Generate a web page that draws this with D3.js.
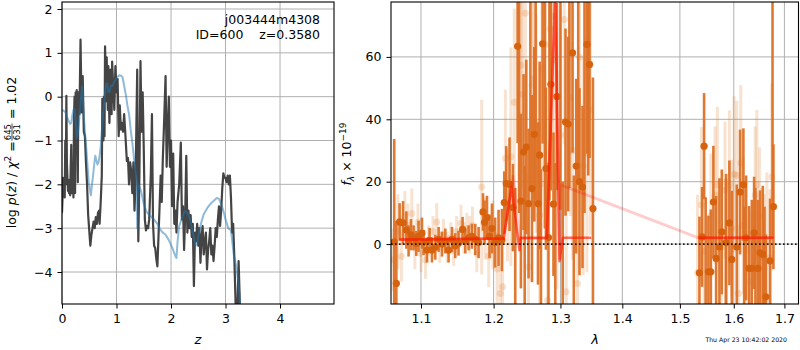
<!DOCTYPE html>
<html>
<head>
<meta charset="utf-8">
<script src="https://cdn.jsdelivr.net/npm/d3@7"></script>
<style>
  body { margin: 0; background: #fff; }
  text { font-family: "DejaVu Sans", sans-serif; }
</style>
</head>
<body>
<script>
// ---- p(z) panel data ----
var zGrid = [0.00,0.01,0.02,0.03,0.04,0.05,0.06,0.07,0.08,0.09,0.10,0.11,0.12,0.13,0.14,0.15,0.16,0.17,0.18,0.19,
  0.20,0.21,0.22,0.23,0.24,0.25,0.26,0.27,0.28,0.29,0.30,0.32,0.34,0.36,0.38,0.40,0.42,0.44,0.46,0.48,
  0.50,0.52,0.54,0.56,0.58,0.60,0.62,0.64,0.66,0.68,0.69,0.71,0.73,0.74,0.76,0.77,0.78,0.79,0.81,0.82,
  0.84,0.85,0.87,0.89,0.91,0.92,0.94,0.96,0.98,1.00,1.02,1.04,1.06,1.08,1.10,1.12,1.14,1.16,1.19,1.21,
  1.23,1.25,1.27,1.29,1.31,1.33,1.35,1.37,1.38,1.40,1.42,1.44,1.46,1.48,1.50,1.52,1.54,1.56,1.58,1.60,
  1.63,1.65,1.67,1.69,1.71,1.73,1.75,1.77,1.79,1.81,1.83,1.85,1.87,1.90,1.92,1.94,1.96,1.98,2.00,2.02,
  2.04,2.06,2.08,2.10,2.12,2.15,2.18,2.20,2.22,2.24,2.26,2.28,2.30,2.32,2.34,2.36,2.38,2.40,2.42,2.44,
  2.46,2.48,2.50,2.52,2.54,2.56,2.58,2.60,2.62,2.64,2.66,2.68,2.70,2.72,2.74,2.76,2.78,2.80,2.82,2.84,
  2.86,2.88,2.90,2.92,2.94,2.96,2.98,3.00,3.02,3.04,3.06,3.08,3.10,3.12,3.14,3.16,3.18,3.20,3.22,3.24,
  3.26,3.28];
var logpz = [-2.65,-2.3,-1.85,-2.2,-2.1,-2.3,-1.0,-2.0,0.02,-1.5,-1.85,-2.15,-1.9,-2.2,-2.05,-2.25,-1.6,-1.1,-2.2,-2.0,
  -1.7,-2.3,-0.5,0.0,-2.2,0.1,-1.2,0.15,-0.8,-1.95,0.1,-0.4,1.3,-0.36,0.47,-0.8,-0.9,-1.5,-2.0,-2.7,
  -3.05,-3.4,-3.15,-3.0,-2.85,-3.0,-2.75,-2.9,-2.65,-2.6,-2.9,-2.4,-1.8,-0.05,-1.0,0.0,-0.9,1.15,-0.1,0.9,
  -0.3,0.7,-0.6,0.62,-0.4,0.8,0.2,-0.3,0.7,0.1,0.4,-0.9,-0.2,-0.75,-0.6,-0.8,-0.4,-0.8,-1.47,-1.4,
  -2.0,-1.5,-1.7,-2.2,-1.5,-2.6,-1.9,-0.2,0.62,-3.3,-1.8,0.81,-0.8,0.1,-1.2,-2.8,-3.05,-2.95,-3.0,-2.8,
  -1.75,-0.4,-2.9,-3.4,-3.45,-3.7,-3.87,-3.2,-2.5,-1.8,-2.4,-1.4,-0.7,0.47,-1.6,-0.7,0.0,-1.6,-1.0,-2.5,
  -1.3,-2.9,-2.6,-3.1,-2.4,-2.0,-1.05,-2.8,-2.5,-3.5,-2.7,-1.35,-3.1,-2.6,-3.0,-2.7,-3.2,-2.9,-4.32,-3.1,
  -3.3,-2.9,-3.4,-3.0,-3.79,-3.2,-2.95,-3.6,-3.3,-3.1,-3.94,-3.5,-3.3,-3.0,-3.6,-3.4,-3.75,-3.4,-3.0,-3.2,
  -2.8,-2.5,-2.95,-2.6,-2.1,-1.75,-1.85,-1.85,-1.95,-1.8,-2.0,-1.8,-2.3,-3.1,-2.9,-3.6,-4.5,-5.5,-4.8,-3.75,
  -4.6,-6.0];

var zFit = [0.00,0.03,0.06,0.09,0.12,0.15,0.17,0.19,0.21,0.23,0.25,0.27,0.29,0.31,0.33,0.35,0.37,0.39,0.41,0.43,
  0.45,0.47,0.49,0.51,0.53,0.55,0.57,0.59,0.61,0.63,0.65,0.67,0.69,0.71,0.73,0.75,0.77,0.79,0.81,0.83,
  0.85,0.87,0.90,0.93,0.96,0.99,1.02,1.05,1.08,1.11,1.14,1.17,1.20,1.23,1.26,1.29,1.32,1.35,1.37,1.38,
  1.39,1.42,1.45,1.50,1.55,1.60,1.65,1.70,1.75,1.80,1.85,1.90,1.95,2.00,2.04,2.08,2.10,2.12,2.15,2.20,
  2.25,2.30,2.35,2.40,2.45,2.48,2.52,2.56,2.60,2.66,2.72,2.78,2.84,2.88,2.92,2.96,3.00,3.05,3.10,3.15,
  3.20,3.25,3.30];
var logpzFit = [-0.3,-0.32,-0.35,-0.45,-0.55,-0.62,-0.6,-0.42,-0.3,-0.28,-0.55,-0.95,-0.85,-0.6,-0.3,0.0,0.24,-0.2,-0.6,-0.95,
  -1.25,-1.6,-1.95,-2.1,-2.25,-2.0,-1.8,-1.55,-1.35,-1.45,-1.55,-1.5,-1.35,-1.15,-0.8,-0.45,-0.2,0.1,0.3,0.3,
  0.1,0.1,0.25,0.25,0.35,0.4,0.45,0.49,0.48,0.45,0.25,0.05,-0.2,-0.4,-0.75,-1.05,-1.4,-1.7,-1.9,-3.0,
  -2.0,-2.05,-2.15,-2.45,-2.62,-2.7,-2.75,-2.82,-2.9,-3.03,-3.1,-3.15,-3.25,-3.38,-3.5,-3.64,-3.68,-3.3,-2.95,-2.78,
  -2.6,-2.65,-2.8,-3.1,-3.4,-3.35,-3.05,-2.85,-2.68,-2.55,-2.45,-2.38,-2.31,-2.33,-2.45,-2.6,-2.8,-3.0,-3.05,-3.6,
  -3.9,-4.4,-5.5];

var zTicks = [0, 1, 2, 3, 4];
var lpTicks = [-4, -3, -2, -1, 0, 1, 2];

// ---- spectrum panel data ----
var specWave = [1.0653,1.0680,1.0722,1.0766,1.0809,1.0838,1.0869,1.0903,1.0938,1.0968,1.1013,1.1034,1.1079,1.1114,1.1146,
  1.1190,1.1235,1.1281,1.1325,1.1370,1.1416,1.1461,1.1506,1.1562,1.1600,1.1646,1.1692,1.1739,1.1786,1.1848,
  1.1870,1.1905,1.1941,1.1976,1.2022,1.2071,1.2120,1.2154,1.2183,1.2231,1.2281,
  1.2315,1.2350,1.2372,1.2399,1.2438,1.2455,1.2479,1.2513,1.2540,1.2564,1.2599,1.2620,1.2655,1.2680,1.2700,
  1.2725,1.2760,1.2776,1.2815,1.2830,1.2852,1.2892,1.2920,1.2945,1.3000,1.3035,1.3079,1.3121,1.3140,1.3190,
  1.3210,1.3248,1.3280,1.3300,1.3348,1.3380,1.3419,1.3440,1.3461,1.3516,
  1.5355,1.5404,1.5441,1.5470,1.5521,1.5566,1.5614,1.5665,1.5727,1.5772,1.5850,1.5853,1.5916,1.5962,1.6058,
  1.6121,1.6185,1.6200,1.6237,1.6296,1.6349,1.6394,1.6420,1.6467,1.6512,1.6566,1.6600,1.6626,1.6711,1.6760,1.6778];
var specFlux = [0.7,-12.6,7.1,6.8,4.5,1.0,3.0,2.0,0.2,2.5,3.5,0.5,-1.9,1.2,-1.9,
  -1.0,1.5,0.0,1.0,-1.9,1.5,-0.5,0.3,4.7,1.0,2.0,2.5,1.5,0.5,10.3,
  7.0,8.5,2.5,5.0,0.5,2.0,1.3,13.3,19.4,19.2,11.7,
  -22,63.4,85,13.8,29.5,-25,31.1,13.0,88,17.8,35.2,82,13.0,28.5,-21,
  64.2,90,24.2,2.1,84,51.2,12.8,-24,47.3,86,-22,39.1,38.5,88,61.3,
  -23,25.0,85,20.0,18.3,90,64.0,82,57.6,11.4,
  -9.2,2.3,31.4,-25,-8.9,-8.9,13.5,-4.6,-0.9,3.9,-24,0.5,6.8,-4.9,-0.9,
  16.7,19.1,-28,2.0,-7.8,-7.8,3.6,-22,-7.8,-2.8,-3.3,-26,-16.9,-5.4,90,12.0];
var specErr = [33,20,6,7,6,5,5,4,4,5,5,4,4,4,4,
  4,4,4,4,4,4,4,4,4,4,4,4,5,5,6,
  7,7,7,8,8,9,10,10,12,15,14,
  40,31,75,28,25,50,28,24,70,30,28,68,26,30,45,
  32,85,26,24,70,34,23,50,30,75,42,30,28,70,32,
  45,28,65,30,26,80,35,60,30,42,
  18,16,17,40,18,20,18,20,22,20,45,22,20,22,20,
  20,18,40,20,20,22,18,40,22,20,22,38,20,20,88,20];

var faintWave = [1.0640,1.0700,1.0745,1.0790,1.0830,1.0880,1.0920,1.0960,1.1000,1.1060,1.1100,1.1160,1.1210,1.1250,1.1300,
  1.1350,1.1400,1.1440,1.1480,1.1540,1.1580,1.1620,1.1660,1.1700,1.1760,1.1830,1.1880,1.1930,1.1990,1.2050,
  1.2096,1.2130,1.2170,1.2200,
  1.2250,1.2301,1.2399,1.2420,1.2464,1.2513,1.2564,1.2590,1.2629,1.2680,1.2715,1.2765,1.2801,1.2841,1.2872,
  1.2903,1.2945,1.3000,1.3059,1.3090,1.3154,1.3190,1.3269,1.3300,1.3359,1.3419,1.3473,
  1.5319,1.5392,1.5440,1.5566,1.5646,1.5688,1.5760,1.5833,1.5916,1.5962,1.6006,1.6058,1.6089,1.6134,1.6185,
  1.6237,1.6315,1.6414,1.6448,1.6499,1.6546,1.6592,1.6646,1.6711,1.6745];
var faintFlux = [-5,4,-4,9,6,9.8,-1,7,-3,-5.1,1,4,7.1,-1,3,
  -1,2,-2,4,6.6,2,5,3,6,-3,18.3,5,-3.8,3,-8,
  -15.8,-13.7,27.5,12.5,
  28,45.5,57.3,48,74,-7.3,50.9,53,38.6,9.3,56.2,64,-18,69,73,
  59,20.5,35,72,-15.3,47,30,-12.6,60,25,29,43,
  -9.2,12.5,-2.4,9,15.7,19,-1,17.3,18.9,5,22.4,22,-15.8,26,6,
  -2,-12,15.7,19,9,-4,-8,1,-4.4,21.5];
var faintErr = [10,12,8,8,7,8,7,6,6,6,5,5,6,5,5,
  5,5,5,5,6,5,5,6,6,6,28,10,10,11,12,
  16,15,22,18,
  35,30,35,30,40,30,35,40,35,30,38,40,35,40,40,
  40,35,40,40,35,38,35,35,40,35,38,40,
  25,25,22,20,22,25,22,22,24,22,25,24,22,25,22,
  22,22,22,24,22,22,24,22,22,30];

var modelWave = [1.0720,1.1000,1.1500,1.1900,1.2145,1.2260,1.2377,1.2395,1.2790,1.2918,1.2986,1.3038,1.3488,1.3489,1.5336,1.6778];
var modelFlux = [1.5,1.5,1.6,1.7,1.8,18.3,-2.0,2.0,2.0,80,-5.5,2.0,2.0,null,2.0,2.0];
var pinkWave = [1.0720,1.2145,1.2280,1.2377,1.2395,1.2790,1.2918,1.2986,1.3000,1.5336,1.6778];
var pinkFlux = [1.5,1.8,22,1.5,1.8,1.8,80,-5,19,2.0,2.0];

var waveTicks = [1.1, 1.2, 1.3, 1.4, 1.5, 1.6, 1.7];
var fluxTicks = [0, 20, 40, 60];

var fs = 12.5;
var svg = d3.select('body').append('svg')
            .attr('width', 800)
            .attr('height', 350);

// ================= left panel =================
var xz = d3.scaleLinear().domain([0, 4.99]).range([62, 334]);
var yp = d3.scaleLinear().domain([-4.73, 2.16]).range([304, 2]);

svg.append('clipPath').attr('id', 'clipL').append('rect')
   .attr('x', 62).attr('y', 2).attr('width', 272).attr('height', 302);

var gridL = svg.append('g').attr('stroke', '#b0b0b0').attr('stroke-width', 1);
gridL.selectAll('.gx').data(zTicks).enter().append('line')
     .attr('x1', function(d){ return xz(d) }).attr('x2', function(d){ return xz(d) })
     .attr('y1', 2).attr('y2', 304);
gridL.selectAll('.gy').data(lpTicks).enter().append('line')
     .attr('y1', function(d){ return yp(d) }).attr('y2', function(d){ return yp(d) })
     .attr('x1', 62).attr('x2', 334);

var plotL = svg.append('g').attr('clip-path', 'url(#clipL)');
var darkLine = d3.line().x(function(d, i){ return xz(zGrid[i]) }).y(function(d){ return yp(d) });
var fitLine = d3.line().x(function(d, i){ return xz(zFit[i]) }).y(function(d){ return yp(d) });

plotL.append('path').attr('d', darkLine(logpz))
     .attr('fill', 'none').attr('stroke', '#3a3a3a').attr('stroke-width', 2.2)
     .attr('stroke-linejoin', 'round').attr('stroke-opacity', 0.95);
plotL.append('path').attr('d', fitLine(logpzFit))
     .attr('fill', 'none').attr('stroke', '#1f77b4').attr('stroke-width', 2)
     .attr('stroke-opacity', 0.5).attr('stroke-linejoin', 'round');

var axL = svg.append('g').attr('transform', 'translate(0,304)')
             .call(d3.axisBottom(xz).tickValues(zTicks).tickSize(4.5).tickPadding(6).tickFormat(d3.format('d')));
var ayL = svg.append('g').attr('transform', 'translate(62,0)')
             .call(d3.axisLeft(yp).tickValues(lpTicks).tickSize(4.5).tickPadding(5).tickFormat(d3.format('d')));

svg.append('rect').attr('x', 62).attr('y', 2).attr('width', 272).attr('height', 302)
   .attr('fill', 'none').attr('stroke', '#000').attr('stroke-width', 1.1);

svg.append('text').attr('x', 320).attr('y', 24).attr('text-anchor', 'end')
   .attr('font-size', fs).attr('fill', '#000').text('j003444m4308');
svg.append('text').attr('x', 320).attr('y', 39).attr('text-anchor', 'end')
   .attr('font-size', fs).attr('fill', '#000').style('white-space', 'pre').text('ID=600    z=0.3580');

svg.append('text').attr('x', 198).attr('y', 344).attr('text-anchor', 'middle')
   .attr('font-size', fs + 0.5).attr('font-style', 'italic').text('z');

// y label with fraction
var ylab = svg.append('g');
var t1 = ylab.append('text').attr('font-size', fs);
t1.append('tspan').text('log ');
t1.append('tspan').attr('font-style', 'italic').text('p');
t1.append('tspan').text('(');
t1.append('tspan').attr('font-style', 'italic').text('z');
t1.append('tspan').text(') / ');
t1.append('tspan').attr('font-style', 'italic').text('χ');
t1.append('tspan').attr('font-size', 9).attr('dy', -5).text('2');
t1.append('tspan').attr('dy', 5).text(' = ');
var w1 = t1.node().getComputedTextLength();
var numT = ylab.append('text').attr('font-size', 8.5).attr('text-anchor', 'middle').attr('y', -5.5).text('645');
var denT = ylab.append('text').attr('font-size', 8.5).attr('text-anchor', 'middle').attr('y', 3.5).text('631');
var fw = Math.max(numT.node().getComputedTextLength(), denT.node().getComputedTextLength()) + 2;
numT.attr('x', w1 + fw / 2);
denT.attr('x', w1 + fw / 2);
ylab.append('line').attr('x1', w1 + 0.5).attr('x2', w1 + fw - 0.5).attr('y1', -4).attr('y2', -4)
    .attr('stroke', '#000').attr('stroke-width', 0.7);
var t3 = ylab.append('text').attr('font-size', fs).attr('x', w1 + fw).text(' = 1.02');
t3.style('white-space', 'pre');
var total = w1 + fw + t3.node().getComputedTextLength();
ylab.attr('transform', 'translate(16,' + (152.5 + total / 2) + ') rotate(-90)');

// ================= right panel =================
var xw = d3.scaleLog().domain([1.0612, 1.730]).range([391, 799]);
var yf = d3.scaleLinear().domain([-19.2, 77.6]).range([304, 2]);

svg.append('clipPath').attr('id', 'clipR').append('rect')
   .attr('x', 391).attr('y', 2).attr('width', 408).attr('height', 302);

var gridR = svg.append('g').attr('stroke', '#b0b0b0').attr('stroke-width', 1);
gridR.selectAll('.gx').data(waveTicks).enter().append('line')
     .attr('x1', function(d){ return xw(d) }).attr('x2', function(d){ return xw(d) })
     .attr('y1', 2).attr('y2', 304);
gridR.selectAll('.gy').data(fluxTicks).enter().append('line')
     .attr('y1', function(d){ return yf(d) }).attr('y2', function(d){ return yf(d) })
     .attr('x1', 391).attr('x2', 799);

var plotR = svg.append('g').attr('clip-path', 'url(#clipR)');

// faint points
plotR.append('g').selectAll('line').data(faintWave).enter().append('line')
     .attr('x1', function(d){ return xw(d) }).attr('x2', function(d){ return xw(d) })
     .attr('y1', function(d, i){ return yf(faintFlux[i] - faintErr[i]) })
     .attr('y2', function(d, i){ return yf(faintFlux[i] + faintErr[i]) })
     .attr('stroke', '#e07a2a').attr('stroke-opacity', 0.22).attr('stroke-width', 3);
plotR.append('g').selectAll('circle').data(faintWave).enter().append('circle')
     .attr('cx', function(d){ return xw(d) })
     .attr('cy', function(d, i){ return yf(faintFlux[i]) })
     .attr('r', 3.5).attr('fill', '#e07a2a').attr('fill-opacity', 0.22);

// main points
plotR.append('g').selectAll('line').data(specWave).enter().append('line')
     .attr('x1', function(d){ return xw(d) }).attr('x2', function(d){ return xw(d) })
     .attr('y1', function(d, i){ return yf(specFlux[i] - specErr[i]) })
     .attr('y2', function(d, i){ return yf(specFlux[i] + specErr[i]) })
     .attr('stroke', '#dd7126').attr('stroke-opacity', 0.95).attr('stroke-width', 2.6);
plotR.append('g').selectAll('circle').data(specWave).enter().append('circle')
     .attr('cx', function(d){ return xw(d) })
     .attr('cy', function(d, i){ return yf(specFlux[i]) })
     .attr('r', 3.6).attr('fill', '#d6620e');

// model
var modelLine = d3.line().defined(function(d){ return d !== null })
                  .x(function(d, i){ return xw(modelWave[i]) }).y(function(d){ return yf(d) });
var pinkLine = d3.line().x(function(d, i){ return xw(pinkWave[i]) }).y(function(d){ return yf(d) });
plotR.append('path').attr('d', pinkLine(pinkFlux)).attr('fill', 'none')
     .attr('stroke', '#ff0000').attr('stroke-opacity', 0.2).attr('stroke-width', 3);
plotR.append('path').attr('d', modelLine(modelFlux)).attr('fill', 'none')
     .attr('stroke', '#ff1a00').attr('stroke-opacity', 0.65).attr('stroke-width', 2.5)
     .attr('stroke-linejoin', 'round');

plotR.append('line').attr('x1', 391).attr('x2', 799).attr('y1', yf(0)).attr('y2', yf(0))
     .attr('stroke', '#000').attr('stroke-width', 1.6).attr('stroke-dasharray', '1.6,2.4')
     .attr('stroke-opacity', 0.85);

var axR = svg.append('g').attr('transform', 'translate(0,304)')
             .call(d3.axisBottom(xw).tickValues(waveTicks).tickSize(4.5).tickPadding(6).tickFormat(d3.format('.1f')));
var ayR = svg.append('g').attr('transform', 'translate(391,0)')
             .call(d3.axisLeft(yf).tickValues(fluxTicks).tickSize(4.5).tickPadding(5).tickFormat(d3.format('d')));

svg.append('rect').attr('x', 391).attr('y', 2).attr('width', 407.5).attr('height', 302)
   .attr('fill', 'none').attr('stroke', '#000').attr('stroke-width', 1.1);

svg.append('text').attr('x', 595).attr('y', 344).attr('text-anchor', 'middle')
   .attr('font-size', fs + 0.5).attr('font-style', 'italic').text('λ');

var flab = svg.append('text').attr('font-size', fs).attr('text-anchor', 'middle')
              .attr('transform', 'translate(351,154) rotate(-90)');
flab.append('tspan').attr('font-style', 'italic').text('f');
flab.append('tspan').attr('font-size', 9).attr('dy', 3).attr('font-style', 'italic').text('λ');
flab.append('tspan').attr('dy', -3).text(' × 10');
flab.append('tspan').attr('font-size', 9).attr('dy', -5).text('−19');

svg.append('text').attr('x', 787).attr('y', 342).attr('text-anchor', 'end')
   .attr('font-size', 6.2).attr('fill', '#000').text('Thu Apr 23 10:42:02 2020');

// axis styling
svg.selectAll('.domain').remove();
svg.selectAll('.tick text').attr('font-size', fs).attr('fill', '#000')
   .style('font-family', '"DejaVu Sans", sans-serif');
svg.selectAll('.tick line').attr('stroke', '#000').attr('stroke-width', 1);
</script>
</body>
</html>
